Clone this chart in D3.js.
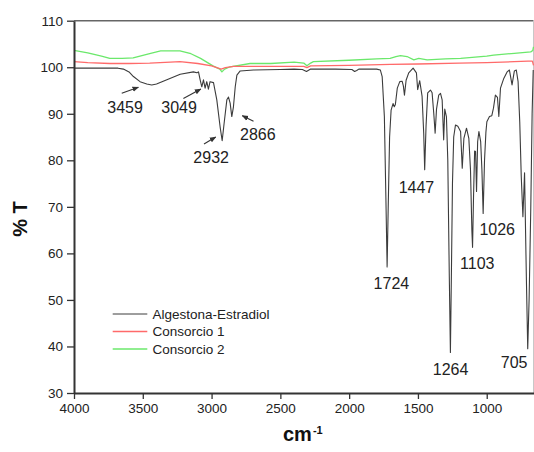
<!DOCTYPE html>
<html>
<head>
<meta charset="utf-8">
<script src="https://cdnjs.cloudflare.com/ajax/libs/d3/7.8.5/d3.min.js"></script>
<style>
body{margin:0;background:#fff;}
svg{display:block;font-family:Arial,"Liberation Sans",sans-serif;}
</style>
</head>
<body>
<div id="chart"></div>
<script>
// Algestona-Estradiol spectrum (cm-1, %T)
var alg_wn = [4000,3800,3680,3641,3600,3568,3520,3471,3435,3400,3325,3228,3132,3107,3095,3083,3071,3059,3047,3035,3023,3011,2986,2962,2938,2923,2909,2889,2877,2865,2853,2841,2828,2816,2792,2695,2500,2400,2340,2310,2280,2100,1980,1960,1945,1930,1800,1773,1760,1744,1733,1724,1716,1706,1695,1681,1672,1664,1650,1632,1615,1606,1598,1586,1567,1535,1511,1502,1487,1470,1458,1451,1441,1429,1409,1397,1385,1375,1365,1349,1336,1324,1313,1305,1293,1283,1272,1264,1257,1249,1240,1227,1210,1190,1178,1166,1147,1130,1118,1108,1103,1096,1088,1081,1074,1066,1057,1044,1035,1026,1016,1006,999,980,963,951,937,922,912,900,876,852,835,816,799,785,772,760,749,737,725,712,702,692,680,670,662]
var alg_t = [99.8,99.8,99.8,99.6,99.0,98.0,96.9,96.4,96.2,96.4,97.3,98.5,99.0,98.8,99.0,97.3,95.8,97.3,95.5,96.9,95.3,96.9,96.7,93.0,87.2,84.2,87.9,93.0,93.6,92.3,89.4,91.5,95.8,98.3,99.2,99.4,99.5,99.6,99.5,99.1,99.6,99.6,99.5,99.1,99.3,99.6,99.6,99.4,98.0,89.4,72,57.1,70,85,90.8,92.2,91.5,92.0,95.5,96.9,97.0,96.0,94.0,97.2,98.8,99.8,98.8,95.2,97.1,93.8,85.8,78.0,87.4,94.5,95.1,94.5,90.1,85.8,91.0,94.0,94.4,93.0,84.4,91.0,89.4,80,55,38.7,55,75,85,87.6,87.3,86.2,78.3,84.7,86.9,84.7,78,65,61.3,72,82,81.9,73.3,84,86.2,84.0,78,68.6,80,86,88.3,89.4,89.6,91.2,94.0,93.5,89.4,95.5,97.6,99.0,99.4,96.2,99.2,99.4,96.9,88.3,76.5,67.9,77.3,55,39.5,50,69.3,90,99.4]

// Consorcio 1
var c1_wn = [4000,3900,3740,3600,3450,3300,3230,3100,3000,2930,2900,2840,2600,2400,2330,2307,2280,2000,1700,1500,1200,1000,800,700,668,660]
var c1_t = [101.2,101.0,100.8,100.8,100.9,101.1,101.2,100.8,100.3,99.6,99.9,100.2,100.2,100.2,100.2,99.9,100.3,100.4,100.6,100.7,100.9,101.0,101.2,101.3,101.3,100.4]

// Consorcio 2
var c2_wn = [4000,3900,3800,3740,3650,3570,3450,3370,3230,3150,3080,2990,2940,2925,2905,2865,2720,2570,2400,2330,2307,2280,2260,2000,1800,1702,1660,1627,1579,1530,1494,1433,1300,1190,1000,950,800,680,665,660]
var c2_t = [103.6,103.1,102.4,101.9,101.9,102.0,102.9,103.5,103.5,102.9,101.9,100.3,99.6,99.0,99.6,100.1,100.8,100.8,101.1,100.9,100.3,100.9,101.2,101.5,101.8,101.9,102.3,102.5,102.3,101.6,101.9,101.6,101.8,101.9,102.4,102.6,103.0,103.3,103.6,104.4]

var x_ticks = [4000,3500,3000,2500,2000,1500,1000]
var x_minor = [3750,3250,2750,2250,1750,1250,750]
var y_ticks = [30,40,50,60,70,80,90,100,110]
var y_minor = [35,45,55,65,75,85,95,105]

var series_names = ["Algestona-Estradiol","Consorcio 1","Consorcio 2"]
var series_colors = ["#3c3c3c","#ff6a6a","#6be86b"]

// peak labels: text, anchor (cm-1, %T)
var peak_text = ["3459","3049","2932","2866","1447","1724","1103","1026","1264","705"]
var peak_wn = [3629,3236,3003,2664,1511,1693,1069,924,1263,801]
var peak_t = [90.2,90.1,79.5,84.4,72.9,52.3,56.6,64.0,33.9,35.3]

// arrows: from (wn,t) to (wn,t)
var arrow_from_wn = [3653,3205,3055,2695]
var arrow_from_t = [94.4,93.3,83.5,88.4]
var arrow_to_wn = [3532,3078,2970,2777]
var arrow_to_t = [95.7,95.3,85.0,89.6]

var width = 534, height = 452;
var x = d3.scaleLinear().domain([4000, 660]).range([74, 533.5]);
var y = d3.scaleLinear().domain([30, 110]).range([393, 20.7]);

var svg = d3.select("#chart").append("svg")
	.attr("width", width)
	.attr("height", height)

svg.append("defs").append("marker")
	.attr("id","arrowhead")
	.attr("viewBox","0 0 10 10")
	.attr("refX", 9).attr("refY", 5)
	.attr("markerWidth", 6).attr("markerHeight", 6)
	.attr("orient","auto")
	.append("path")
	.attr("d","M0,1 L10,5 L0,9 Z")
	.attr("fill","#333")

// frame top + right
svg.append("line")
	.attr("x1", x(4000)).attr("x2", x(660))
	.attr("y1", y(110)).attr("y2", y(110))
	.attr("stroke","#666").attr("stroke-width",1.5)
svg.append("line")
	.attr("x1", x(660)).attr("x2", x(660))
	.attr("y1", y(110)).attr("y2", y(30))
	.attr("stroke","#c8c8c8").attr("stroke-width",1)

function make_line(wn, t){
	return d3.line()
		.x(function(d, i){ return x(wn[i]) })
		.y(function(d, i){ return y(t[i]) })(wn)
}

var all_series = [[c2_wn,c2_t],[c1_wn,c1_t],[alg_wn,alg_t]]
var order = [2,1,0]
for(var k = 0; k < all_series.length; k++){
	svg.append("path")
		.attr("d", make_line(all_series[k][0], all_series[k][1]))
		.attr("fill","none")
		.attr("stroke", series_colors[order[k]])
		.attr("stroke-width", order[k]==0 ? 1.1 : 1.3)
		.attr("stroke-linejoin","round")
}

// axes
var gx = svg.append("g").attr("transform","translate(0,"+y(30)+")")
gx.call(d3.axisBottom(x).tickValues(x_minor).tickSize(3.5).tickFormat(""))
gx.call(d3.axisBottom(x).tickValues(x_ticks).tickSize(6).tickSizeOuter(0).tickPadding(4).tickFormat(d3.format("d")))
var gy = svg.append("g").attr("transform","translate("+x(4000)+",0)")
gy.call(d3.axisLeft(y).tickValues(y_minor).tickSize(3.5).tickFormat(""))
gy.call(d3.axisLeft(y).tickValues(y_ticks).tickSize(7).tickSizeOuter(0).tickPadding(4).tickFormat(d3.format("d")))

svg.selectAll(".domain").attr("stroke","#333").attr("stroke-width",2)
svg.selectAll(".tick line").attr("stroke","#333").attr("stroke-width",1.3)
svg.selectAll(".tick text").attr("fill","#222").style("font-size","13.5px")

// axis titles
svg.append("text")
	.attr("transform","translate(26.5,219) rotate(-90)")
	.attr("text-anchor","middle")
	.style("font-size","20px").style("font-weight","bold")
	.attr("fill","#111")
	.text("% T")
var xt = svg.append("text")
	.attr("x", 283).attr("y", 441)
	.style("font-size","20px").style("font-weight","bold")
	.attr("fill","#111")
xt.append("tspan").text("cm")
xt.append("tspan").attr("dy",-7).attr("dx",1).style("font-size","11px").text("-1")

// peak labels
for(var i = 0; i < peak_text.length; i++){
	svg.append("text")
		.attr("x", x(peak_wn[i])).attr("y", y(peak_t[i]))
		.attr("text-anchor","middle")
		.style("font-size","16px")
		.attr("fill","#222")
		.text(peak_text[i])
}
for(var j = 0; j < arrow_from_wn.length; j++){
	svg.append("line")
		.attr("x1", x(arrow_from_wn[j])).attr("y1", y(arrow_from_t[j]))
		.attr("x2", x(arrow_to_wn[j])).attr("y2", y(arrow_to_t[j]))
		.attr("stroke","#333").attr("stroke-width",1.1)
		.attr("marker-end","url(#arrowhead)")
}

// legend
var legend_y = [314, 331.5, 349]
for(var n = 0; n < series_names.length; n++){
	svg.append("line")
		.attr("x1",112.7).attr("x2",147.3)
		.attr("y1",legend_y[n]).attr("y2",legend_y[n])
		.attr("stroke",series_colors[n]).attr("stroke-width", n==0 ? 1 : 1.5)
	svg.append("text")
		.attr("x",152.5).attr("y",legend_y[n])
		.attr("dy","0.35em")
		.style("font-size","13.5px")
		.attr("fill","#222")
		.text(series_names[n])
}
</script>
</body>
</html>
